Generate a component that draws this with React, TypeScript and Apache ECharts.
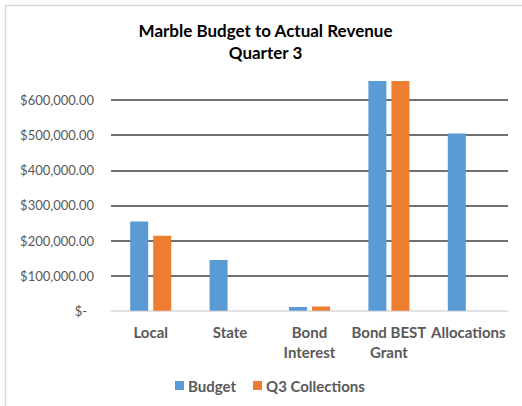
import React, { useEffect, useRef } from "react";
import * as echarts from "echarts";

const categories = ["Local", "State", "Bond\nInterest", "Bond BEST\nGrant", "Allocations"];
const budget = [254000, 144500, 10500, 654500, 505000];
const q3Collections = [213700, 0, 12000, 654500, 0];
const seriesNames = ["Budget", "Q3 Collections"];
const titleText = "Marble Budget to Actual Revenue\nQuarter 3";

const FONT = "Lato, 'Liberation Sans', sans-serif";

export default function App() {
  const ref = useRef<HTMLDivElement>(null);
  useEffect(() => {
    if (!ref.current) return;
    const chart = echarts.init(ref.current, null, { renderer: "svg" });
    chart.setOption({
      animation: false,
      backgroundColor: "#ffffff",
      textStyle: { fontFamily: FONT },
      graphic: [
        {
          type: "rect",
          shape: { x: 5.5, y: 5.5, width: 540, height: 440 },
          style: { fill: "none", stroke: "#d9d9d9", lineWidth: 1.5 },
          silent: true,
        },
        {
          type: "text",
          x: 265.5,
          y: 41,
          style: {
            text: titleText,
            fontFamily: FONT,
            fontWeight: "bold",
            fontSize: 17,
            lineHeight: 22,
            fill: "#000000",
            textAlign: "center",
            textVerticalAlign: "middle",
          },
        },
      ],
      legend: {
        data: seriesNames,
        left: 175,
        top: 378,
        padding: 0,
        itemWidth: 9,
        itemHeight: 9,
        itemGap: 17,
        icon: "rect",
        textStyle: { fontFamily: FONT, fontWeight: "bold", fontSize: 15, color: "#595959", padding: [0, 0, 0, -1] },
      },
      grid: { left: 111, right: 14, top: 65, bottom: 95.3, containLabel: false },
      xAxis: {
        type: "category",
        data: categories,
        axisLine: { show: true, lineStyle: { color: "#d9d9d9", width: 1.5 } },
        axisTick: { show: false },
        axisLabel: {
          interval: 0,
          margin: 11,
          fontFamily: FONT,
          fontWeight: "bold",
          fontSize: 15,
          lineHeight: 20,
          color: "#595959",
        },
      },
      yAxis: {
        type: "value",
        min: 0,
        max: 700000,
        interval: 100000,
        axisLine: { show: false },
        axisTick: { show: false },
        splitLine: {
          show: true,
          showMinLine: false,
          showMaxLine: false,
          lineStyle: { color: "#404040", width: 1.5 },
        },
        axisLabel: {
          margin: 17,
          showMaxLabel: false,
          fontFamily: FONT,
          fontSize: 13,
          color: "#595959",
          formatter: (v: number) =>
            v === 0
              ? "{z|$-}"
              : "$" + v.toLocaleString("en-US", { minimumFractionDigits: 2, maximumFractionDigits: 2 }),
          rich: { z: { fontFamily: FONT, fontSize: 13, color: "#595959", padding: [0, 7, 0, 0] } },
        },
      },
      series: [
        {
          name: seriesNames[0],
          type: "bar",
          data: budget,
          barWidth: 18,
          barGap: "28%",
          itemStyle: { color: "#5B9BD5" },
        },
        {
          name: seriesNames[1],
          type: "bar",
          data: q3Collections,
          barWidth: 18,
          barGap: "28%",
          itemStyle: { color: "#ED7D31" },
        },
      ],
    });
    return () => chart.dispose();
  }, []);
  return (
    <div
      ref={ref}
      style={{ position: "fixed", left: 0, top: 0, width: 522, height: 406 }}
    />
  );
}
